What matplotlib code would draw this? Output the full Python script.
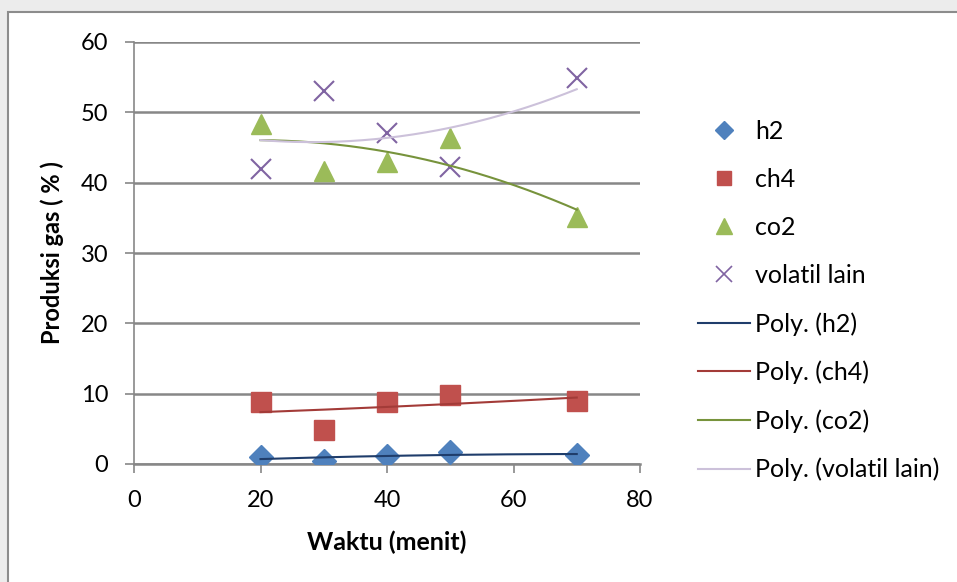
import matplotlib.pyplot as plt
from matplotlib.lines import Line2D
from matplotlib.patches import Rectangle
import numpy as np

plt.rcParams['font.family'] = ['Lato', 'DejaVu Sans']

# Waktu (menit) and gas composition (%)
waktu = [20, 30, 40, 50, 70]
h2 = [1.0, 0.4, 1.1, 1.7, 1.3]
ch4 = [8.8, 4.8, 8.8, 9.8, 9.0]
co2 = [48.4, 41.7, 43.0, 46.4, 35.1]
volatil = [42.0, 53.1, 47.1, 42.2, 54.9]

names = ['h2', 'ch4', 'co2', 'volatil lain']
series = [h2, ch4, co2, volatil]
marker_colors = ['#4F81BD', '#C0504D', '#9BBB59', '#8064A2']
trend_colors = ['#1F3D6B', '#A33B38', '#77933C', '#CCC1DA']
markers = ['D', 's', '^', 'x']
msizes = [12, 14, 15, 14]

W, H = 957, 582
fig = plt.figure(figsize=(W / 100, H / 100), dpi=100, facecolor='#ececec')
# chart frame
fig.patches.append(Rectangle((8 / W, -0.1), 1.2, 1 - 12 / H + 0.1, transform=fig.transFigure,
                             facecolor='white', edgecolor='#8c8c8c', linewidth=1.5, zorder=-5))

ax = fig.add_axes([134 / W, 1 - 464 / H, (640 - 134) / W, (464 - 42) / H])
ax.set_facecolor('none')

xs = np.linspace(min(waktu), max(waktu), 200)
for name, y, mc, tc, m, ms in zip(names, series, marker_colors, trend_colors, markers, msizes):
    if m == 'x':
        ax.plot(waktu, y, linestyle='none', marker=m, markersize=ms, markeredgewidth=1.5,
                color=mc, zorder=3)
    else:
        ax.plot(waktu, y, linestyle='none', marker=m, markersize=ms, color=mc,
                markeredgecolor=mc, zorder=3)
    # 2nd order polynomial trendline
    coef = np.polyfit(waktu, y, 2)
    ax.plot(xs, np.polyval(coef, xs), color=tc, linewidth=1.5, zorder=4)

ax.set_xlim(0, 80)
ax.set_ylim(0, 60)
ax.set_xticks([0, 20, 40, 60, 80])
ax.set_yticks(range(0, 61, 10))
ax.grid(axis='y', color='#878787', linewidth=1.8)
ax.set_axisbelow(True)
for s in ['top', 'right']:
    ax.spines[s].set_visible(False)
ax.spines['left'].set_color('#878787')
ax.spines['bottom'].set_color('#878787')
ax.spines['left'].set_linewidth(1.2)
ax.spines['bottom'].set_linewidth(1.8)
ax.tick_params(axis='both', colors='#878787', labelcolor='black', labelsize=17, length=6.5, width=1.2)
ax.tick_params(axis='y', pad=12)
ax.tick_params(axis='x', pad=12)
ax.set_xlabel('Waktu (menit)', fontsize=18, fontweight='bold', labelpad=14)
ax.set_ylabel('Produksi gas ( % )', fontsize=17, fontweight='bold', labelpad=12)

handles = []
for name, mc, m, ms in zip(names, marker_colors, markers, msizes):
    if m == 'x':
        handles.append(Line2D([], [], linestyle='none', marker=m, markersize=12,
                              markeredgewidth=1.2, color=mc, label=name))
    else:
        handles.append(Line2D([], [], linestyle='none', marker=m, markersize=ms * 0.75,
                              color=mc, label=name))
for name, tc in zip(names, trend_colors):
    handles.append(Line2D([], [], color=tc, linewidth=1.5, label='Poly. (%s)' % name))

fig.legend(handles=handles, loc='upper left', bbox_to_anchor=(688 / W, 1 - 110 / H),
           frameon=False, fontsize=18, handlelength=2.08, handletextpad=0.2,
           labelspacing=1.0, borderaxespad=0)

fig.savefig('out.png', dpi=100, facecolor=fig.get_facecolor())
